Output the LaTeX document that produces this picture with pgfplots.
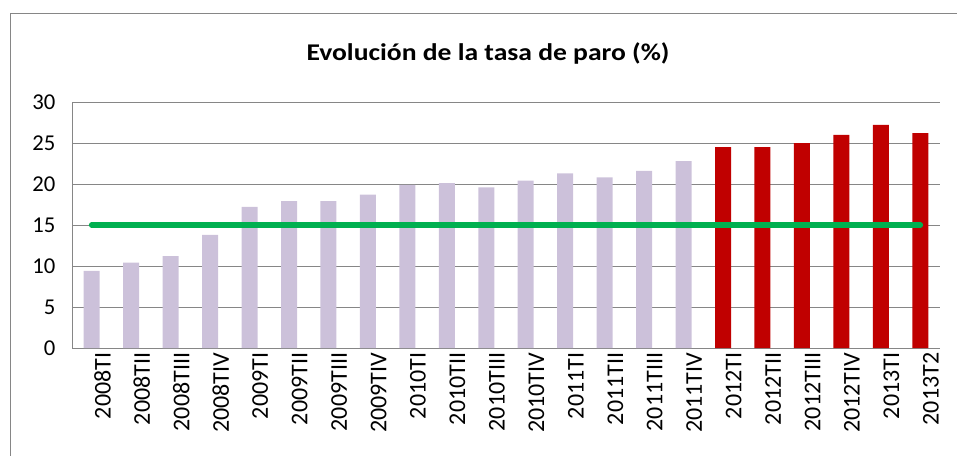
\documentclass[border=0pt]{standalone}
\usepackage{fontspec}
\setmainfont{Carlito}
\newfontfamily\titulo{Carlito}[FakeStretch=1.15]
\usepackage{pgfplots}
\pgfplotsset{compat=1.18}

\definecolor{lila}{HTML}{CCC1DA}
\definecolor{rojo}{HTML}{C00000}
\definecolor{verde}{HTML}{00B050}
\definecolor{rejilla}{HTML}{868686}

\begin{document}
\begin{tikzpicture}
% marco del grafico (se sale por la derecha y por abajo)
\draw[rejilla, line width=0.75pt] (7.5pt,-342pt) -- (7.5pt,-10.5pt) -- (717.75pt,-10.5pt);
\node[font=\titulo\fontsize{18}{21}\selectfont\bfseries] at (366pt,-39.75pt) {Evolución de la tasa de paro (\%)};
\begin{axis}[
    at={(54pt,-261pt)}, anchor=south west,
    width=651pt, height=184.5pt, scale only axis,
    xmin=-0.5, xmax=21.5,
    ymin=0, ymax=30,
    ytick={0,5,...,30},
    xtick={0,...,21},
    xticklabels={2008TI,2008TII,2008TIII,2008TIV,2009TI,2009TII,2009TIII,2009TIV,
                 2010TI,2010TII,2010TIII,2010TIV,2011TI,2011TII,2011TIII,2011TIV,
                 2012TI,2012TII,2012TIII,2012TIV,2013TI,2013T2},
    axis x line*=bottom, axis y line*=left,
    axis line style={rejilla, line width=0.75pt, -},
    ymajorgrids, grid style={rejilla, line width=0.75pt},
    major tick length=0pt,
    yticklabel style={font=\fontsize{17}{20}\selectfont, xshift=-9pt},
    /pgf/number format/assume math mode=true,
    xticklabel style={font=\fontsize{18}{21}\selectfont, rotate=90, anchor=east, yshift=-8pt},
    ybar, bar width=12pt, bar shift=0pt,
    clip=false,
]
\addplot[fill=lila, draw=none] coordinates {
    (0,9.4) (1,10.4) (2,11.2) (3,13.8) (4,17.2) (5,17.9) (6,17.9) (7,18.7)
    (8,19.9) (9,20.1) (10,19.6) (11,20.4) (12,21.3) (13,20.8) (14,21.6) (15,22.8)
};
\addplot[fill=rojo, draw=none] coordinates {
    (16,24.5) (17,24.5) (18,25.0) (19,26.0) (20,27.2) (21,26.2)
};
\addplot[sharp plot, verde, line width=4.3pt, line cap=round] coordinates {
    (0,15) (21,15)
};
\end{axis}
\pgfresetboundingbox
\path[use as bounding box] (0,0) rectangle (717.75pt,-342pt);
\end{tikzpicture}
\end{document}
